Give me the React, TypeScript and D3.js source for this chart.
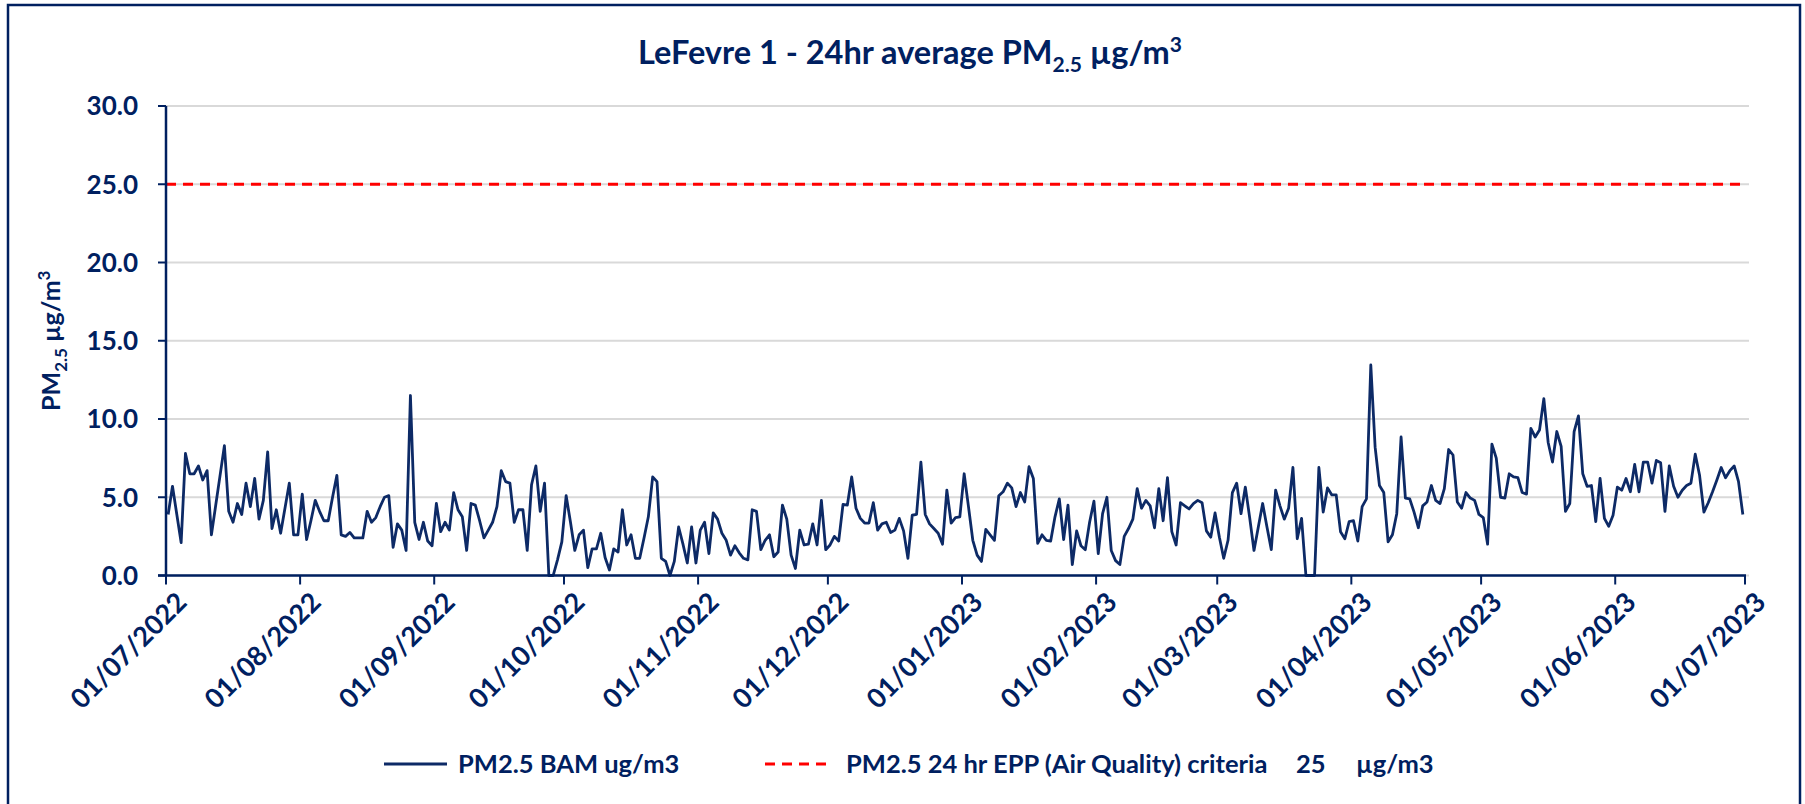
import React from 'react';
import * as d3 from 'd3';

// ---- data ----
const startDate = new Date(2022, 6, 1);
const endDate = new Date(2023, 6, 1);

const pm25Daily: number[] = [
  3.9, 5.7, 3.9, 2.1, 7.8, 6.5, 6.5, 7.0, 6.1, 6.7,
  2.6, 4.5, 6.4, 8.3, 4.1, 3.4, 4.6, 3.9, 5.9, 4.4,
  6.2, 3.6, 4.8, 7.9, 3.0, 4.2, 2.7, 4.3, 5.9, 2.6,
  2.6, 5.2, 2.3, 3.5, 4.8, 4.1, 3.5, 3.5, 5.0, 6.4,
  2.6, 2.5, 2.75, 2.4, 2.4, 2.4, 4.1, 3.4, 3.7, 4.4,
  5.0, 5.1, 1.8, 3.3, 2.9, 1.6, 11.5, 3.4, 2.3, 3.4,
  2.2, 1.9, 4.6, 2.8, 3.4, 2.9, 5.3, 4.2, 3.75, 1.6,
  4.6, 4.5, 3.5, 2.4, 2.9, 3.4, 4.4, 6.7, 6.0, 5.9,
  3.4, 4.2, 4.2, 1.6, 5.8, 7.0, 4.1, 5.9, 0.0, 0.0,
  1.0, 2.15, 5.1, 3.4, 1.6, 2.6, 2.9, 0.5, 1.7, 1.7,
  2.7, 1.15, 0.35, 1.7, 1.5, 4.2, 1.95, 2.6, 1.1, 1.1,
  2.4, 3.75, 6.3, 6.0, 1.1, 0.9, 0.0, 0.9, 3.1, 2.0,
  0.8, 3.1, 0.8, 2.9, 3.4, 1.4, 4.0, 3.6, 2.7, 2.25,
  1.3, 1.9, 1.45, 1.1, 1.0, 4.2, 4.1, 1.65, 2.25, 2.6,
  1.2, 1.5, 4.5, 3.6, 1.3, 0.45, 2.9, 1.95, 2.0, 3.3,
  1.95, 4.8, 1.65, 1.95, 2.5, 2.2, 4.55, 4.5, 6.3, 4.3,
  3.65, 3.35, 3.35, 4.65, 2.9, 3.3, 3.4, 2.75, 2.9, 3.65,
  2.85, 1.1, 3.85, 3.9, 7.25, 3.9, 3.3, 3.0, 2.7, 2.0,
  5.45, 3.35, 3.7, 3.75, 6.5, 4.4, 2.25, 1.3, 0.9, 2.95,
  2.6, 2.25, 5.1, 5.35, 5.9, 5.6, 4.4, 5.3, 4.7, 6.95,
  6.2, 2.05, 2.6, 2.25, 2.2, 3.75, 4.9, 2.3, 4.5, 0.7,
  2.85, 1.9, 1.65, 3.4, 4.75, 1.4, 3.95, 5.0, 1.6, 0.95,
  0.7, 2.5, 3.0, 3.6, 5.55, 4.3, 4.8, 4.45, 3.05, 5.55,
  3.5, 6.25, 2.8, 1.95, 4.65, 4.45, 4.25, 4.6, 4.8, 4.65,
  2.85, 2.45, 4.0, 2.45, 1.1, 2.25, 5.3, 5.9, 3.95, 5.65,
  3.7, 1.6, 3.1, 4.6, 3.1, 1.65, 5.45, 4.45, 3.6, 4.3,
  6.9, 2.35, 3.65, 0.0, 0.0, 0.0, 6.9, 4.05, 5.6, 5.15,
  5.15, 2.8, 2.35, 3.45, 3.5, 2.2, 4.4, 4.9, 13.45, 8.2,
  5.75, 5.3, 2.15, 2.6, 3.95, 8.85, 4.95, 4.9, 4.05, 3.05,
  4.45, 4.7, 5.75, 4.8, 4.6, 5.55, 8.05, 7.7, 4.7, 4.3,
  5.3, 4.95, 4.8, 3.9, 3.7, 2.0, 8.4, 7.5, 5.0, 4.95,
  6.5, 6.3, 6.25, 5.3, 5.2, 9.4, 8.85, 9.3, 11.3, 8.5,
  7.25, 9.2, 8.25, 4.1, 4.6, 9.2, 10.2, 6.5, 5.7, 5.75,
  3.45, 6.2, 3.65, 3.15, 3.85, 5.65, 5.45, 6.2, 5.35, 7.1,
  5.35, 7.25, 7.25, 5.9, 7.35, 7.2, 4.1, 7.0, 5.7, 5.0,
  5.45, 5.75, 5.9, 7.75, 6.4, 4.05, 4.65, 5.35, 6.1, 6.9,
  6.25, 6.7, 7.0, 6.0, 3.9,
];

const criteriaValue = 25;
const yTickValues = [0, 5, 10, 15, 20, 25, 30];
const xTickDates = [
  new Date(2022, 6, 1), new Date(2022, 7, 1), new Date(2022, 8, 1), new Date(2022, 9, 1),
  new Date(2022, 10, 1), new Date(2022, 11, 1), new Date(2023, 0, 1), new Date(2023, 1, 1),
  new Date(2023, 2, 1), new Date(2023, 3, 1), new Date(2023, 4, 1), new Date(2023, 5, 1),
  new Date(2023, 6, 1),
];
const xTickLabels = [
  '01/07/2022', '01/08/2022', '01/09/2022', '01/10/2022', '01/11/2022', '01/12/2022',
  '01/01/2023', '01/02/2023', '01/03/2023', '01/04/2023', '01/05/2023', '01/06/2023',
  '01/07/2023',
];
const seriesLabel = 'PM2.5 BAM ug/m3';
const criteriaLabelParts = ['PM2.5 24 hr EPP (Air Quality) criteria', '25', 'µg/m3'];

// ---- layout ----
const W = 1805;
const H = 804;
const left = 166;
const right = 1745;
const top = 106;
const bottom = 575.5;
const NAVY = '#002060';
const LINE = '#0d2a66';
const FONT = 'Lato, "Open Sans", sans-serif';

export default function App() {
  const x = d3.scaleTime().domain([startDate, endDate]).range([left, right]);
  const y = d3.scaleLinear().domain([0, 30]).range([bottom, top]);

  const pts = pm25Daily.map((v, i) => ({
    date: d3.timeHour.offset(d3.timeDay.offset(startDate, i), 12),
    v,
  }));
  const line = d3
    .line<{ date: Date; v: number }>()
    .x((d) => x(d.date))
    .y((d) => y(d.v));

  return (
    <svg
      width={W}
      height={H}
      style={{ position: 'absolute', left: 0, top: 0, background: '#fff' }}
      fontFamily={FONT}
    >
      <rect x={0} y={0} width={W} height={H} fill="#fff" />
      <rect x={8} y={5} width={1792} height={H + 10} fill="none" stroke={NAVY} strokeWidth={2.5} />

      {/* title */}
      <text x={910} y={64} textAnchor="middle" fill={NAVY} fontWeight={700} fontSize={32.5}>
        LeFevre 1 - 24hr average PM
        <tspan dy={8} fontSize={21}>2.5</tspan>
        <tspan dy={-8}> µg/m</tspan>
        <tspan dy={-12} fontSize={21}>3</tspan>
      </text>

      {/* gridlines */}
      {yTickValues.map((t) => (
        <line key={'g' + t} x1={left} x2={right + 4} y1={y(t)} y2={y(t)} stroke="#d9d9d9" strokeWidth={2} />
      ))}

      {/* criteria line */}
      <line
        x1={left}
        x2={right}
        y1={y(criteriaValue)}
        y2={y(criteriaValue)}
        stroke="#ff0000"
        strokeWidth={3}
        strokeDasharray="10 7"
      />

      {/* data line */}
      <path d={line(pts) || ''} fill="none" stroke={LINE} strokeWidth={2.8} strokeLinejoin="round" />

      {/* axes */}
      <line x1={left} x2={left} y1={top} y2={bottom} stroke={NAVY} strokeWidth={2.5} />
      <line x1={left - 8} x2={right + 1} y1={bottom} y2={bottom} stroke={NAVY} strokeWidth={2.5} />
      {yTickValues.map((t) => (
        <g key={'yt' + t}>
          <line x1={left - 8} x2={left} y1={y(t)} y2={y(t)} stroke={NAVY} strokeWidth={2} />
          <text
            x={138}
            y={y(t)}
            dy="0.36em"
            textAnchor="end"
            fill={NAVY}
            fontWeight={700}
            fontSize={26}
          >
            {t.toFixed(1)}
          </text>
        </g>
      ))}
      {xTickDates.map((d, i) => {
        const xx = x(d);
        return (
          <g key={'xt' + i}>
            <line x1={xx} x2={xx} y1={bottom} y2={bottom + 9} stroke={NAVY} strokeWidth={2} />
            <text
              transform={`translate(${xx + 9},${bottom + 15}) rotate(-45)`}
              textAnchor="end"
              dy="0.7em"
              fill={NAVY}
              fontWeight={700}
              fontSize={27}
            >
              {xTickLabels[i]}
            </text>
          </g>
        );
      })}

      {/* y-axis title */}
      <text
        transform={`translate(60,${(top + bottom) / 2}) rotate(-90)`}
        textAnchor="middle"
        fill={NAVY}
        fontWeight={700}
        fontSize={25}
      >
        PM
        <tspan dy={7} fontSize={17}>2.5</tspan>
        <tspan dy={-7}> µg/m</tspan>
        <tspan dy={-10} fontSize={17}>3</tspan>
      </text>

      {/* legend */}
      <line x1={384} x2={447} y1={764} y2={764} stroke={LINE} strokeWidth={2.8} />
      <text x={458} y={773} fill={NAVY} fontWeight={700} fontSize={25.5}>
        {seriesLabel}
      </text>
      <line x1={765} x2={829} y1={764} y2={764} stroke="#ff0000" strokeWidth={3} strokeDasharray="10 7" />
      <text x={846} y={773} fill={NAVY} fontWeight={700} fontSize={25.5}>
        {criteriaLabelParts[0]}
        <tspan x={1296}>{criteriaLabelParts[1]}</tspan>
        <tspan x={1356}>{criteriaLabelParts[2]}</tspan>
      </text>
    </svg>
  );
}
